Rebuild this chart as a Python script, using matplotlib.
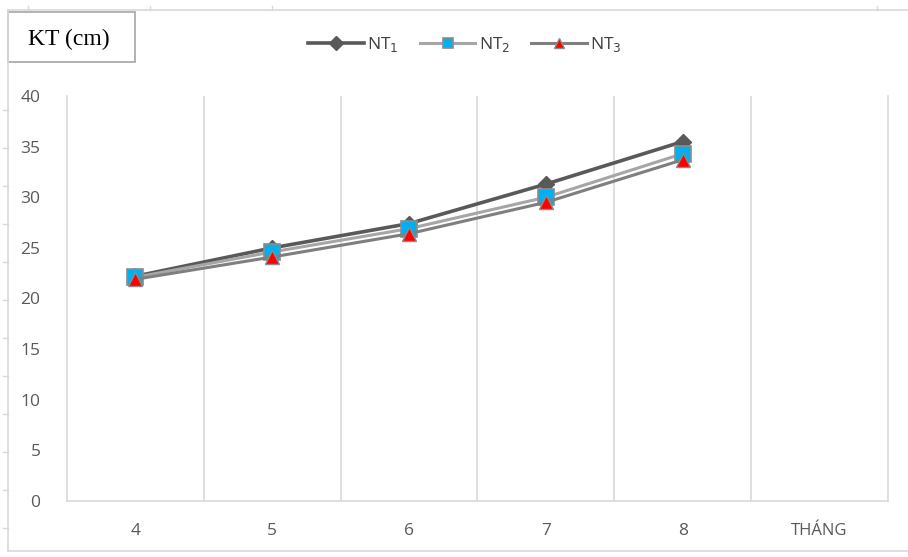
import matplotlib
matplotlib.use("Agg")
import matplotlib.pyplot as plt
from matplotlib.lines import Line2D
from matplotlib.patches import Rectangle

categories = ["4", "5", "6", "7", "8", "THÁNG"]
months = ["4", "5", "6", "7", "8"]
nt1 = [22.2, 25.0, 27.4, 31.3, 35.5]
nt2 = [22.1, 24.6, 26.9, 30.0, 34.3]
nt3 = [21.9, 24.1, 26.4, 29.5, 33.7]
series_labels = ["NT$_1$", "NT$_2$", "NT$_3$"]
y_ticks = [0, 5, 10, 15, 20, 25, 30, 35, 40]
y_title = "KT (cm)"

W, H = 908, 557
fig = plt.figure(figsize=(W / 100, H / 100), dpi=100)
fig.patch.set_facecolor("white")

def fx(px):
    return px / W

def fy(py):
    return 1 - py / H

ax = fig.add_axes([fx(67), fy(501), fx(888) - fx(67), fy(96) - fy(501)])
ax.set_facecolor("white")

x = list(range(len(months)))
l1, = ax.plot(x, nt1, color="#595959", lw=2.6, marker="D", ms=8.5,
              mfc="#595959", mec="#595959", zorder=3)
l2, = ax.plot(x, nt2, color="#A6A6A6", lw=2.2, marker="s", ms=11,
              mfc="#00B0F0", mec="#8C8C8C", mew=1.2, zorder=4)
l3, = ax.plot(x, nt3, color="#7F7F7F", lw=2.2, marker="^", ms=10,
              mfc="#FF0000", mec="#8C8C8C", mew=1.0, zorder=5)

ax.set_xlim(-0.5, len(categories) - 0.5)
ax.set_ylim(0, 40)
ax.set_xticks(range(len(categories)))
ax.set_xticklabels(categories)
ax.set_yticks(y_ticks)

# vertical gridlines between categories
for b in range(len(categories) - 1):
    ax.axvline(b + 0.5, color="#D9D9D9", lw=1.2, zorder=1)

ax.spines["top"].set_visible(False)
for side in ["left", "right", "bottom"]:
    ax.spines[side].set_color("#D9D9D9")
    ax.spines[side].set_linewidth(1.2)

ax.tick_params(axis="both", length=0, colors="#595959", labelsize=12.5)
ax.tick_params(axis="y", pad=19)
ax.tick_params(axis="x", pad=16)
for lab in ax.get_xticklabels() + ax.get_yticklabels():
    lab.set_fontfamily("Open Sans")
    lab.set_color("#595959")
last = ax.get_xticklabels()[-1]
last.set_fontsize(12)
last.set_text("THÁNG")

# legend
leg = fig.legend([l1, l2, l3], series_labels, loc="center",
                 bbox_to_anchor=(fx(465), fy(45)), ncol=3, frameon=False,
                 handlelength=3.2, columnspacing=1.2, handletextpad=0.2,
                 prop={"family": "Open Sans", "size": 12.5})
for t in leg.get_texts():
    t.set_color("#404040")
for h in leg.legend_handles:
    h.set_markersize(7)

# outer frame lines
fig.add_artist(Line2D([fx(8), 1.0], [fy(10), fy(10)], color="#D9D9D9", lw=1.2))
fig.add_artist(Line2D([fx(8), fx(8)], [fy(10), fy(551)], color="#D9D9D9", lw=1.2))
fig.add_artist(Line2D([fx(8), 1.0], [fy(551), fy(551)], color="#D9D9D9", lw=1.2))
for ty in range(110, 540, 38):
    fig.add_artist(Line2D([fx(3), fx(8)], [fy(ty), fy(ty)], color="#D9D9D9", lw=1))
for tx in [28, 150, 272, 877]:
    fig.add_artist(Line2D([fx(tx), fx(tx)], [fy(6), fy(10)], color="#D9D9D9", lw=1))

# y title box
fig.add_artist(Rectangle((fx(8), fy(62)), fx(135) - fx(8), fy(12) - fy(62),
                         facecolor="white", edgecolor="#A6A6A6", lw=1.2))
fig.text(fx(69), fy(39), y_title, ha="center", va="center",
         fontsize=17, family="Liberation Serif", color="#000000")

fig.savefig("out.png", dpi=100)
